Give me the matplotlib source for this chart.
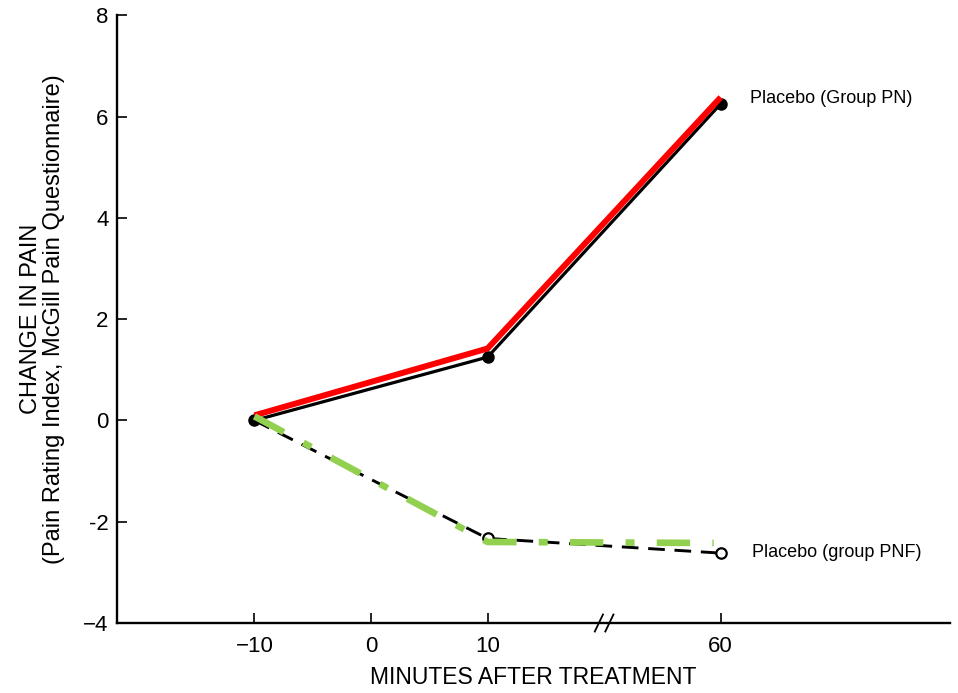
import numpy as np
import matplotlib
matplotlib.use('Agg')
import matplotlib.pyplot as plt
import matplotlib.transforms as mtransforms

# Data
minutes = [-10, 10, 60]
pn_black = [0.0, 1.25, 6.25]      # Placebo (Group PN), original trace
pn_red = [0.1, 1.42, 6.38]        # red highlight drawn over PN
pnf_black = [0.0, -2.33, -2.62]   # Placebo (group PNF), original trace
pnf_green = [0.08, -2.4, -2.42]   # green highlight drawn over PNF
green_end = 57                    # green trace stops short of the 60 min point

x_ticks = [-10, 0, 10, 60]
x_ticklabels = ['\u221210', '0', '10', '60']
y_ticks = [-4, -2, 0, 2, 4, 6, 8]
y_ticklabels = ['\u22124', '-2', '0', '2', '4', '6', '8']
break_at = 20


def axis_pos(m):
    """Map minutes onto the broken x axis (gap between 10 and 60)"""
    m = np.asarray(m, dtype=float)
    return np.where(m <= 10, m, 30 + (m - 60) * 0.2)


plt.rcParams['font.family'] = ['Liberation Sans', 'DejaVu Sans']
plt.rcParams['lines.scale_dashes'] = False

fig = plt.figure(figsize=(9.58, 6.93), dpi=100)
ax = fig.add_axes([0.122, 0.101, 0.870, 0.877])

x = axis_pos(minutes)

# Original black traces
ax.plot(x, pn_black, color='black', linewidth=2.3, solid_capstyle='round',
        marker='o', markersize=8, markerfacecolor='black', zorder=3)
ax.plot(x, pnf_black, color='black', linewidth=2.1, dashes=(12, 7),
        zorder=3)
ax.plot(x[1:], pnf_black[1:], linestyle='none', marker='o', markersize=7.5,
        markerfacecolor='white', markeredgecolor='black',
        markeredgewidth=1.6, zorder=4)

# Coloured highlights
ax.plot(x, pn_red, color='#ff0000', linewidth=4.3, solid_capstyle='butt',
        zorder=5)
gx = np.append(x[:2], axis_pos(green_end))
ax.plot(gx, pnf_green, color='#92d050', linewidth=4.8,
        dashes=(24, 16, 6.5, 16), zorder=5)

# Labels on the lines
ax.text(axis_pos(60) + 2.5, 6.35, 'Placebo (Group PN)', fontsize=13,
        va='center', ha='left')
ax.text(axis_pos(60) + 2.7, -2.6, 'Placebo (group PNF)', fontsize=13,
        va='center', ha='left')

# Axes styling
ax.set_xlim(-21.8, 49.7)
ax.set_ylim(-4, 8)
ax.spines['top'].set_visible(False)
ax.spines['right'].set_visible(False)
ax.spines['left'].set_linewidth(1.7)
ax.spines['bottom'].set_linewidth(1.7)
ax.set_xticks(axis_pos(x_ticks))
ax.set_xticklabels(x_ticklabels)
ax.set_yticks(y_ticks)
ax.set_yticklabels(y_ticklabels)
ax.tick_params(direction='in', length=7, width=1.2, labelsize=16,
               colors='black')
ax.tick_params(axis='x', pad=9)
ax.tick_params(axis='y', pad=6)

# Axis break marks
trans = mtransforms.blended_transform_factory(ax.transData, ax.transAxes)
for dx in (-0.45, 0.45):
    ax.plot([break_at + dx - 0.35, break_at + dx + 0.35], [-0.014, 0.014],
            color='black', linewidth=1.3, transform=trans, clip_on=False,
            zorder=6)

ax.set_xlabel('MINUTES AFTER TREATMENT', fontsize=16.5, labelpad=7)
ax.set_ylabel('CHANGE IN PAIN\n(Pain Rating Index, McGill Pain Questionnaire)',
              fontsize=17, labelpad=13, linespacing=1.05)

fig.savefig('out.png', dpi=100)
